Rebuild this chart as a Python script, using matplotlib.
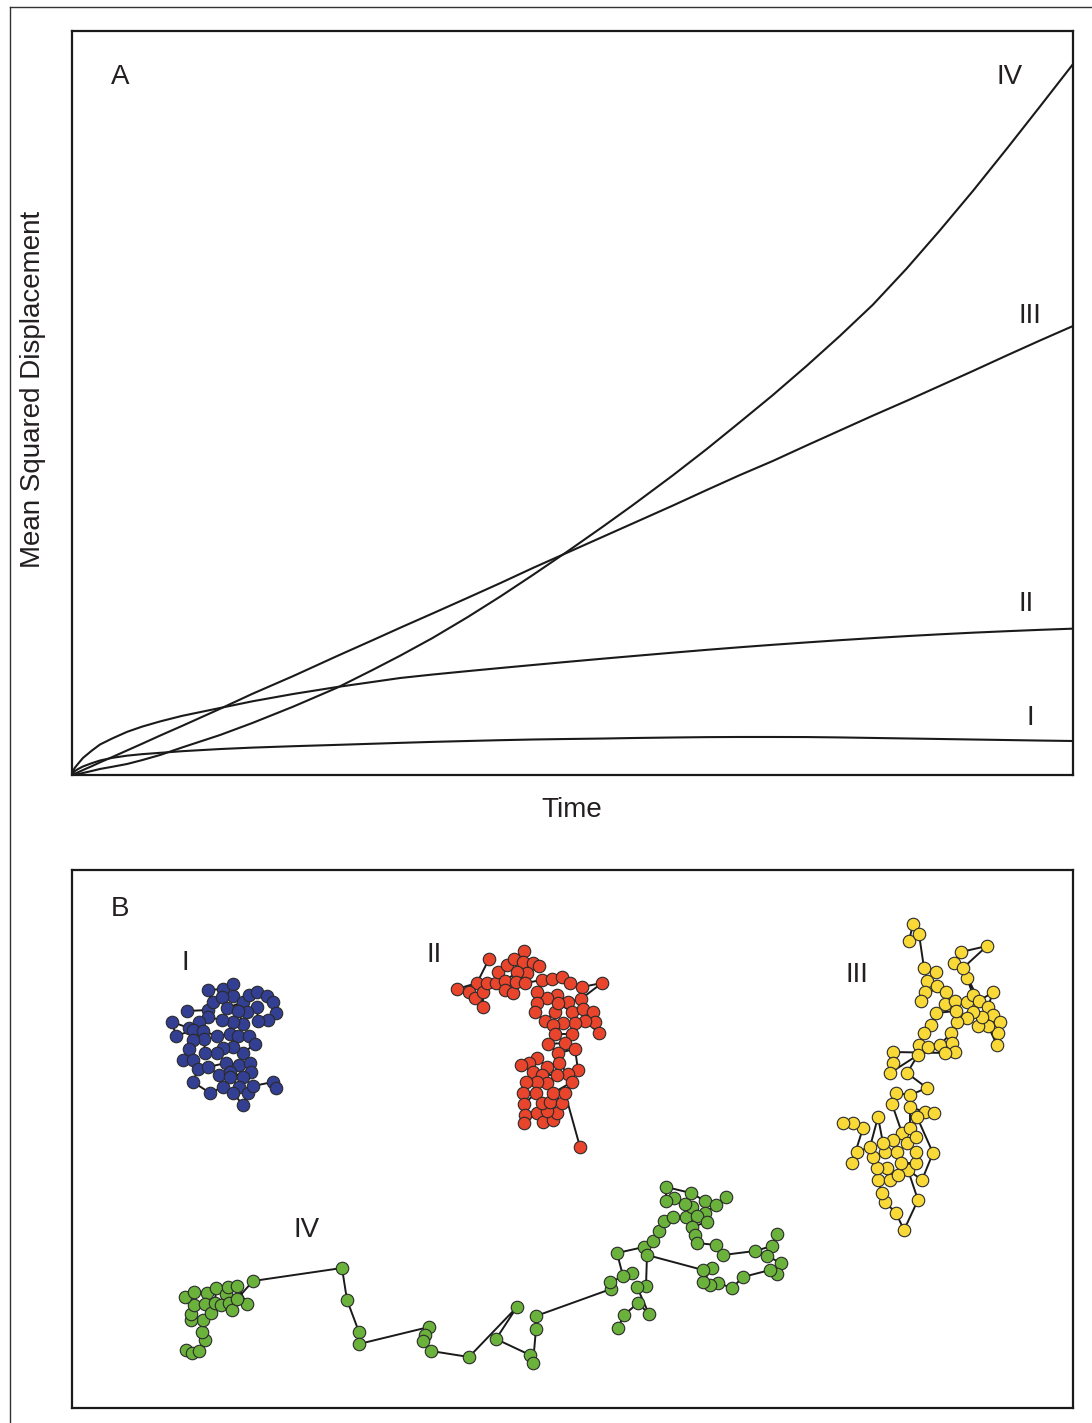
import matplotlib
matplotlib.use("Agg")
import matplotlib.pyplot as plt
from matplotlib.lines import Line2D

plt.rcParams['font.family'] = ['Liberation Sans', 'DejaVu Sans']

# ------------------------------------------------------------
# Panel A: MSD curves (arbitrary units 0-100)
# ------------------------------------------------------------
time = [0, 0.1, 0.3, 0.6, 1.1, 2, 2.8, 4, 5.5, 7, 8.8, 11, 14.8, 18, 22.1, 26.5,
        30, 32.8, 36, 39.5, 42.8, 46, 49.5, 53, 56, 60, 63.4, 66.7, 70, 73.4,
        76.7, 80, 83.4, 86.7, 90, 93.4, 96.7, 100]
msd_I = [0, 0.25, 0.54, 0.8, 1.15, 1.6, 1.95, 2.3, 2.6, 2.8, 2.98, 3.2, 3.49, 3.68,
         3.87, 4.05, 4.2, 4.32, 4.45, 4.57, 4.68, 4.77, 4.84, 4.9, 4.97, 5.04, 5.09,
         5.11, 5.11, 5.1, 5.05, 4.98, 4.91, 4.84, 4.77, 4.70, 4.63, 4.57]
msd_II = [0, 0.55, 1.0, 1.5, 2.3, 3.3, 4.1, 4.9, 5.8, 6.5, 7.2, 7.95, 9.01, 9.9,
          10.89, 11.83, 12.5, 13.04, 13.5, 13.96, 14.38, 14.78, 15.21, 15.63, 15.98, 16.44,
          16.82, 17.17, 17.5, 17.82, 18.12, 18.4, 18.67, 18.91, 19.13, 19.33, 19.51, 19.67]
msd_III = [0, 0.06, 0.18, 0.36, 0.67, 1.2, 1.7, 2.4, 3.3, 4.2, 5.3, 6.6, 8.9, 10.9,
           13.3, 16.0, 18.1, 19.8, 21.7, 23.8, 25.8, 27.8, 29.9, 32.0, 33.8, 36.2, 38.3,
           40.3, 42.2, 44.3, 46.3, 48.3, 50.3, 52.3, 54.3, 56.4, 58.4, 60.35]
msd_IV = [0, 0.01, 0.05, 0.12, 0.27, 0.55, 0.81, 1.1, 1.48, 2.0, 2.69, 3.7, 5.38, 6.98,
          9.19, 11.74, 14.1, 16.05, 18.4, 21.2, 24.0, 26.85, 30.05, 33.35, 36.25,
          40.25, 43.8, 47.4, 51.05, 55.0, 59.0, 63.2, 68.1, 73.2, 78.5, 84.2,
          89.85, 95.55]

curve_labels = ["I", "II", "III", "IV"]

# ------------------------------------------------------------
# Panel B: example trajectories (positions in picture units)
# ------------------------------------------------------------
blue_x = [187, 208, 213, 208, 223, 233, 233, 222, 227, 243, 249, 257, 267, 273, 276,
          268, 258, 257, 247, 238, 243, 233, 222, 208, 199, 189, 172, 176, 193, 203,
          217, 230, 238, 249, 255, 243, 233, 223, 217, 205, 204, 193, 189, 183, 193,
          198, 193, 210, 223, 219, 208, 226, 239, 250, 251, 243, 230, 230, 239, 233,
          243, 248, 253, 273, 276]
blue_y = [1011, 1010, 1002, 990, 989, 984, 996, 997, 1008, 1002, 995, 992, 996, 1002, 1013,
          1020, 1021, 1007, 1012, 1011, 1024, 1022, 1020, 1017, 1022, 1028, 1022, 1036, 1030, 1031,
          1036, 1034, 1036, 1036, 1044, 1053, 1047, 1048, 1053, 1053, 1039, 1040, 1049, 1060, 1060,
          1069, 1082, 1093, 1087, 1075, 1067, 1063, 1065, 1063, 1072, 1077, 1072, 1077, 1087, 1093,
          1105, 1093, 1086, 1082, 1088]

red_x = [489, 477, 457, 469, 475, 483, 483, 487, 496, 498, 507, 514, 524, 523, 533,
         539, 527, 517, 505, 505, 513, 516, 525, 542, 552, 562, 570, 582, 602, 581,
         568, 557, 547, 537, 537, 535, 545, 555, 558, 572, 583, 593, 595, 599, 585,
         575, 563, 553, 555, 572, 565, 548, 558, 575, 578, 568, 559, 547, 537, 529,
         521, 533, 542, 557, 547, 537, 526, 523, 536, 524, 525, 524, 537, 543, 553,
         557, 547, 542, 550, 562, 553, 572, 565, 580]
red_y = [959, 983, 989, 992, 998, 1007, 992, 983, 983, 972, 965, 959, 951, 962, 963,
         966, 973, 972, 981, 990, 993, 982, 983, 980, 979, 977, 983, 987, 983, 999,
         1002, 995, 998, 992, 1003, 1012, 1021, 1012, 1003, 1012, 1009, 1012, 1022, 1033, 1021,
         1023, 1023, 1025, 1034, 1034, 1043, 1044, 1053, 1049, 1070, 1074, 1063, 1067, 1058, 1063,
         1065, 1072, 1075, 1075, 1083, 1082, 1082, 1093, 1093, 1104, 1115, 1123, 1113, 1122, 1120,
         1113, 1111, 1103, 1102, 1103, 1093, 1082, 1093, 1147]

yellow_x = [913, 909, 919, 924, 936, 927, 925, 921, 937, 946, 945, 955, 967, 973, 967,
            954, 961, 987, 963, 979, 993, 988, 993, 1000, 998, 997, 988, 978, 982, 973,
            967, 957, 956, 936, 931, 924, 919, 928, 940, 951, 952, 955, 945, 893, 893,
            890, 918, 907, 927, 910, 896, 892, 902, 910, 910, 925, 934, 917, 933, 922,
            908, 918, 904, 896, 885, 882, 878, 890, 898, 887, 877, 873, 885, 897, 901,
            916, 916, 907, 916, 893, 883, 878, 870, 857, 852, 863, 853, 843]
yellow_y = [924, 941, 934, 968, 972, 981, 992, 1001, 986, 992, 1004, 1001, 1002, 995, 978,
            963, 952, 946, 968, 1001, 992, 1007, 1015, 1022, 1033, 1045, 1026, 1026, 1017, 1012,
            1018, 1022, 1011, 1013, 1025, 1033, 1045, 1047, 1045, 1033, 1043, 1052, 1053, 1052, 1063,
            1073, 1055, 1073, 1088, 1095, 1093, 1104, 1133, 1128, 1107, 1112, 1113, 1117, 1153, 1180,
            1170, 1200, 1230, 1213, 1202, 1193, 1180, 1180, 1175, 1168, 1168, 1157, 1152, 1152, 1163,
            1163, 1152, 1143, 1137, 1140, 1143, 1117, 1147, 1152, 1163, 1128, 1123, 1123]

green_x = [186, 192, 199, 205, 202, 203, 191, 191, 194, 185, 194, 207, 205, 211, 215,
           216, 226, 221, 229, 232, 228, 237, 247, 237, 253, 342, 347, 359, 359, 429,
           425, 423, 431, 469, 517, 496, 530, 533, 536, 536, 611, 610, 632, 623, 617,
           644, 653, 659, 664, 673, 686, 692, 685, 674, 666, 666, 691, 705, 716, 726,
           705, 697, 707, 692, 695, 697, 716, 723, 755, 772, 777, 767, 781, 777, 770,
           743, 732, 718, 710, 703, 712, 703, 647, 646, 637, 649, 638, 624, 618]
green_y = [1350, 1353, 1351, 1340, 1332, 1320, 1320, 1314, 1305, 1297, 1292, 1293, 1304, 1313, 1303,
           1288, 1294, 1305, 1303, 1310, 1287, 1286, 1304, 1299, 1281, 1268, 1300, 1332, 1344, 1327,
           1335, 1341, 1351, 1357, 1307, 1339, 1355, 1363, 1329, 1316, 1289, 1282, 1273, 1276, 1253,
           1247, 1241, 1231, 1221, 1217, 1217, 1207, 1204, 1198, 1201, 1187, 1193, 1201, 1205, 1197,
           1213, 1216, 1222, 1227, 1235, 1243, 1245, 1255, 1251, 1246, 1234, 1256, 1263, 1274, 1270,
           1277, 1288, 1283, 1285, 1282, 1268, 1270, 1255, 1286, 1287, 1314, 1303, 1315, 1328]

traj_colors = ["#333f92", "#e8452c", "#f8d938", "#6ab23c"]

text_color = "#231f20"
fs = 20

# ------------------------------------------------------------
# Figure
# ------------------------------------------------------------
W, H = 1092, 1423
fig = plt.figure(figsize=(W / 100, H / 100), dpi=100)

# outer frame (only top and left edge visible)
fig.add_artist(Line2D([10 / W, 10 / W], [0, 1 - 7 / H], color="#333333", lw=1.0))
fig.add_artist(Line2D([10 / W, 1], [1 - 7 / H, 1 - 7 / H], color="#333333", lw=1.0))

# ---- Panel A ----
axA = fig.add_axes([72 / W, 1 - 775 / H, 1001 / W, 744 / H])
for msd in [msd_I, msd_II, msd_III, msd_IV]:
    axA.plot(time, msd, color="#1a1a1a", lw=1.5, solid_joinstyle="round")
axA.set_xlim(0, 100)
axA.set_ylim(0, 100)
axA.set_xticks([])
axA.set_yticks([])
for sp in axA.spines.values():
    sp.set_linewidth(1.6)
    sp.set_color("#1a1a1a")

axA.text(4.8, 93.8, "A", fontsize=fs, color=text_color, ha="center", va="center")
label_pos = [(95.7, 7.7), (95.3, 23.0), (95.7, 61.7), (93.7, 93.8)]
for lab, (lx, ly) in zip(curve_labels, label_pos):
    axA.text(lx, ly, lab, fontsize=fs, color=text_color, ha="center", va="center")

fig.text(33 / W, 1 - 389 / H, "Mean Squared Displacement", rotation=90,
         fontsize=fs, color=text_color, ha="center", va="center")
fig.text(572 / W, 1 - 810 / H, "Time", fontsize=fs, color=text_color,
         ha="center", va="center")

# ---- Panel B ----
axB = fig.add_axes([72 / W, 1 - 1408 / H, 1001 / W, 538 / H])
trajs = [(blue_x, blue_y), (red_x, red_y), (yellow_x, yellow_y), (green_x, green_y)]
for (tx, ty), col in zip(trajs, traj_colors):
    axB.plot(tx, ty, color="#1a1a1a", lw=1.4, marker="o", ms=9.0,
             mfc=col, mec="#2a2a2a", mew=0.8)
axB.set_xlim(72, 1073)
axB.set_ylim(1408, 870)
axB.set_xticks([])
axB.set_yticks([])
for sp in axB.spines.values():
    sp.set_linewidth(1.6)
    sp.set_color("#1a1a1a")

axB.text(120, 909, "B", fontsize=fs, color=text_color, ha="center", va="center")
traj_label_pos = [(185, 963), (434, 955), (857, 975), (307, 1230)]
for lab, (lx, ly) in zip(curve_labels, traj_label_pos):
    axB.text(lx, ly, lab, fontsize=fs, color=text_color, ha="center", va="center")

fig.savefig("out.png", dpi=100, facecolor="white")
